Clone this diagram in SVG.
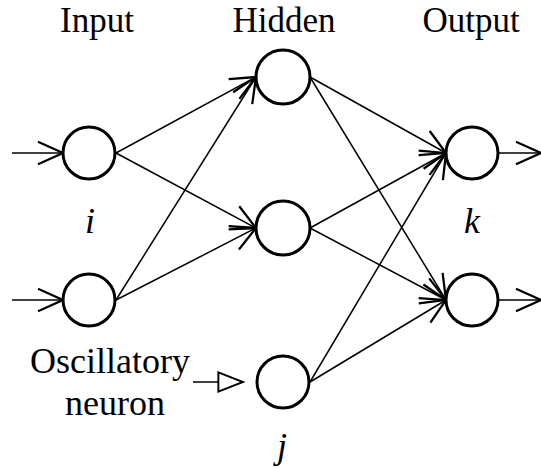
<svg xmlns="http://www.w3.org/2000/svg" width="541" height="468" viewBox="0 0 541 468">
<style>
.node{fill:#fff;stroke:#000;stroke-width:3}
.edge{stroke:#000;stroke-width:1.5;fill:none}
</style>
<defs>
<marker id="arr" markerUnits="userSpaceOnUse" markerWidth="30" markerHeight="30" viewBox="-22 -11 24 22" refX="0" refY="0" orient="auto">
<path d="M-20,-9 L0,0 L-20,9" fill="none" stroke="#000" stroke-width="1.8"/>
</marker>
<marker id="tri" markerUnits="userSpaceOnUse" markerWidth="30" markerHeight="30" viewBox="-26 -11 28 22" refX="0" refY="0" orient="auto">
<path d="M-23,-9 L0,0 L-23,9 Z" fill="#fff" stroke="#000" stroke-width="1.8"/>
</marker>
</defs>
<g id="connectors">
<line class="edge" x1="12" y1="153" x2="63" y2="153" marker-end="url(#arr)"/>
<line class="edge" x1="12" y1="300" x2="63" y2="300" marker-end="url(#arr)"/>
<line class="edge" x1="116" y1="153" x2="256" y2="77" marker-end="url(#arr)"/>
<line class="edge" x1="116" y1="153" x2="256" y2="228" marker-end="url(#arr)"/>
<line class="edge" x1="116" y1="300" x2="256" y2="77" marker-end="url(#arr)"/>
<line class="edge" x1="116" y1="300" x2="256" y2="228" marker-end="url(#arr)"/>
<line class="edge" x1="310" y1="77" x2="446" y2="153" marker-end="url(#arr)"/>
<line class="edge" x1="310" y1="77" x2="446" y2="300" marker-end="url(#arr)"/>
<line class="edge" x1="310" y1="228" x2="446" y2="153" marker-end="url(#arr)"/>
<line class="edge" x1="310" y1="228" x2="446" y2="300" marker-end="url(#arr)"/>
<line class="edge" x1="310" y1="382" x2="446" y2="153" marker-end="url(#arr)"/>
<line class="edge" x1="310" y1="382" x2="446" y2="300" marker-end="url(#arr)"/>
<line class="edge" x1="498" y1="153" x2="541" y2="153" marker-end="url(#arr)"/>
<line class="edge" x1="498" y1="300" x2="541" y2="300" marker-end="url(#arr)"/>
<line class="edge" x1="193" y1="382" x2="243" y2="382" marker-end="url(#tri)"/>
</g>
<g id="input1"><circle class="node" cx="89" cy="153" r="26"/></g>
<g id="input2"><circle class="node" cx="89" cy="300" r="26"/></g>
<g id="hidden1"><circle class="node" cx="283" cy="77" r="27"/></g>
<g id="hidden2"><circle class="node" cx="283" cy="228" r="27"/></g>
<g id="hiddenj"><circle class="node" cx="283" cy="382" r="26"/></g>
<g id="output1"><circle class="node" cx="472" cy="153" r="26"/></g>
<g id="output2"><circle class="node" cx="472" cy="300" r="26"/></g>
<g id="labels" font-family="Liberation Serif, DejaVu Serif, serif" font-size="36" fill="#000" text-anchor="middle">
<text x="97" y="32" font-size="35">Input</text>
<text x="284" y="32" font-size="35">Hidden</text>
<text x="471" y="32" font-size="35">Output</text>
<text font-style="italic" x="90" y="233">i</text>
<text font-style="italic" x="472" y="233">k</text>
<text font-style="italic" x="282" y="458">j</text>
<text x="110" y="373">Oscillatory</text>
<text x="115" y="415">neuron</text>
</g>
</svg>
